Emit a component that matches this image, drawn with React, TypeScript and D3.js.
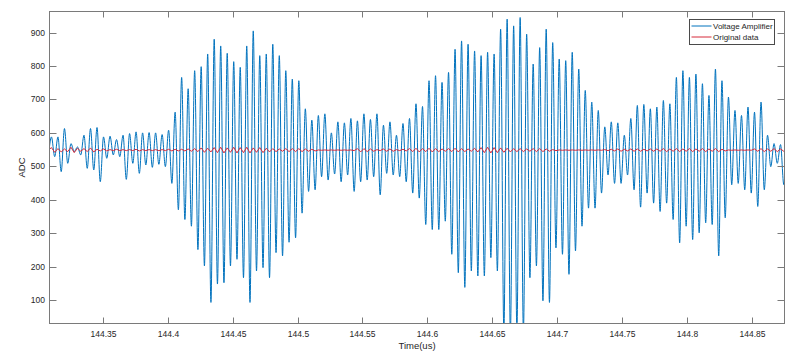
import React from "react";
import * as d3 from "d3";

// time axis (us) and ADC axis
const xTicks = [144.35, 144.4, 144.45, 144.5, 144.55, 144.6, 144.65, 144.7, 144.75, 144.8, 144.85];
const xTickLabels = ["144.35", "144.4", "144.45", "144.5", "144.55", "144.6", "144.65", "144.7", "144.75", "144.8", "144.85"];
const yTicks = [100, 200, 300, 400, 500, 600, 700, 800, 900];

// sampling of the extrema: peak k sits at firstPeakTime + 2k*halfPeriod, trough k right after it
const firstPeakTime = 144.3105;
const halfPeriod = 0.0025065;

// Voltage Amplifier (blue) - value before the first peak, then peaks and troughs
const blueLead = 520;
const bluePeaks = [
  588, 588, 613, 568, 558, 593, 613, 616, 588, 590, 580, 593, 598, 603, 600, 601, 600, 595, 608,
  662, 766, 732, 786, 798, 836, 880, 860, 838, 813, 796, 860, 905, 831, 836, 865, 831, 786,
  761, 756, 672, 638, 652, 657, 600, 633, 630, 643, 636, 657, 640, 657, 623, 633, 593, 628,
  643, 687, 679, 756, 771, 751, 781, 850, 875, 865, 845, 831, 841, 836, 910, 940, 920, 945, 895,
  806, 855, 910, 870, 821, 816, 841, 791, 727, 692, 667, 618, 633, 630, 593, 643, 682, 685, 672,
  677, 697, 687, 766, 786, 766, 776, 747, 712, 791, 756, 707, 667, 652, 677, 662, 692, 593,
  568, 565, 578,
];
const blueTroughs = [
  529, 484, 509, 544, 534, 494, 489, 454, 524, 534, 529, 461, 509, 479, 504, 497, 506, 499, 449,
  370, 341, 321, 251, 202, 93, 148, 152, 202, 222, 167, 93, 187, 197, 167, 242, 232, 273,
  286, 360, 425, 430, 469, 459, 477, 454, 474, 425, 454, 459, 469, 415, 479, 474, 469, 454,
  420, 405, 326, 311, 311, 336, 237, 182, 138, 187, 172, 172, 227, 187, 5, 0, 10, 5, 167,
  202, 98, 93, 256, 237, 177, 247, 321, 375, 375, 420, 474, 449, 449, 474, 430, 378, 420, 390,
  365, 390, 341, 271, 321, 281, 301, 331, 326, 232, 346, 445, 449, 430, 420, 380, 430, 499,
  509, 445,
];

// Original data (red)
const redLead = 548;
const redPeaks = [
  556, 553, 552, 557, 554, 553, 555, 551, 552, 550, 551, 550, 550, 551, 550, 550, 550, 550, 551,
  551, 551, 552, 553, 555, 554, 556, 557, 555, 557, 556, 557, 555, 556, 554, 553, 552, 553,
  553, 553, 552, 551, 549, 549, 549, 549, 549, 549, 553, 553, 552, 550, 552, 552, 550, 551,
  553, 554, 553, 554, 553, 552, 553, 554, 553, 552, 554, 556, 557, 556, 555, 554, 553, 553, 552,
  553, 553, 552, 550, 549, 549, 549, 549, 549, 549, 549, 550, 551, 552, 551, 552, 552, 551, 552,
  552, 553, 552, 553, 552, 553, 552, 553, 552, 553, 551, 549, 549, 549, 549, 552, 553, 552,
  553, 552, 551,
];
const redTroughs = [
  542, 543, 544, 541, 545, 544, 543, 546, 546, 547, 547, 547, 547, 546, 547, 547, 547, 547, 546,
  546, 546, 545, 544, 542, 543, 541, 540, 542, 540, 541, 540, 542, 541, 543, 544, 545, 544,
  544, 544, 545, 546, 548, 548, 548, 548, 548, 547, 543, 544, 545, 547, 545, 545, 547, 546,
  544, 543, 544, 543, 544, 545, 544, 543, 544, 545, 543, 541, 540, 541, 542, 543, 544, 544, 545,
  544, 544, 545, 547, 548, 548, 548, 548, 548, 548, 548, 547, 546, 545, 546, 545, 545, 546, 545,
  545, 544, 545, 544, 545, 544, 545, 544, 545, 544, 546, 548, 548, 548, 548, 545, 544, 545,
  544, 545,
];

type Pt = { t: number; v: number };

function buildSeries(lead: number, peaks: number[], troughs: number[]): Pt[] {
  const pts: Pt[] = [{ t: firstPeakTime - halfPeriod, v: lead }];
  peaks.forEach((p, k) => {
    pts.push({ t: firstPeakTime + 2 * k * halfPeriod, v: p });
    if (k < troughs.length) {
      pts.push({ t: firstPeakTime + (2 * k + 1) * halfPeriod, v: troughs[k] });
    }
  });
  return pts;
}

const W = 800;
const H = 360;
const left = 49.5;
const right = 784.5;
const top = 11.5;
const bottom = 323.5;

export default function App() {
  const x = d3.scaleLinear().domain([144.309, 144.875]).range([left, right]);
  const y = d3.scaleLinear().domain([30, 963]).range([bottom, top]);

  const blue = buildSeries(blueLead, bluePeaks, blueTroughs);
  const red = buildSeries(redLead, redPeaks, redTroughs);

  const blueLine = d3
    .line<Pt>()
    .x((d) => x(d.t))
    .y((d) => y(d.v))
    .curve(d3.curveMonotoneX);
  const redLine = d3
    .line<Pt>()
    .x((d) => x(d.t))
    .y((d) => y(d.v));

  const axisColor = "#7a7a7a";
  const textColor = "#262626";
  const font = "'Liberation Sans', Arial, Helvetica, sans-serif";

  return (
    <svg width={W} height={H} style={{ position: "absolute", left: 0, top: 0, background: "#fff" }}>
      <defs>
        <clipPath id="plot">
          <rect x={left} y={top} width={right - left} height={bottom - top} />
        </clipPath>
      </defs>
      <rect x={0} y={0} width={W} height={H} fill="#fff" />

      <g clipPath="url(#plot)">
        <path d={blueLine(blue) || ""} fill="none" stroke="#0072bd" strokeWidth={1} />
        <path d={redLine(red) || ""} fill="none" stroke="#d62b3a" strokeWidth={1} />
      </g>

      {/* box */}
      <rect x={left} y={top} width={right - left} height={bottom - top} fill="none" stroke={axisColor} strokeWidth={1} />

      {/* x ticks, top and bottom, inward */}
      {xTicks.map((t, i) => {
        const px = Math.round(x(t)) + 0.5;
        return (
          <g key={"x" + i}>
            <line x1={px} x2={px} y1={bottom} y2={bottom - 6} stroke={axisColor} />
            <line x1={px} x2={px} y1={top} y2={top + 6} stroke={axisColor} />
            <text x={px} y={336.5} textAnchor="middle" fontSize={8.5} fontFamily={font} fill={textColor}>
              {xTickLabels[i]}
            </text>
          </g>
        );
      })}

      {/* y ticks, left and right, inward */}
      {yTicks.map((t, i) => {
        const py = Math.round(y(t)) + 0.5;
        return (
          <g key={"y" + i}>
            <line x1={left} x2={left + 7} y1={py} y2={py} stroke={axisColor} />
            <line x1={right} x2={right - 7} y1={py} y2={py} stroke={axisColor} />
            <text x={45} y={py} dy="0.35em" textAnchor="end" fontSize={8.5} fontFamily={font} fill={textColor}>
              {t}
            </text>
          </g>
        );
      })}

      <text x={(left + right) / 2} y={349} textAnchor="middle" fontSize={9.5} fontFamily={font} fill={textColor}>
        Time(us)
      </text>
      <text
        transform={`translate(25, ${(top + bottom) / 2}) rotate(-90)`}
        textAnchor="middle"
        fontSize={9.5}
        fontFamily={font}
        fill={textColor}
      >
        ADC
      </text>

      {/* legend */}
      <g>
        <rect x={689.5} y={19.5} width={85} height={25} fill="#fff" stroke="#4a4a4a" strokeWidth={1} />
        <line x1={691.5} x2={711.5} y1={26} y2={26} stroke="#0072bd" strokeWidth={1} />
        <line x1={691.5} x2={711.5} y1={37} y2={37} stroke="#d62b3a" strokeWidth={1} />
        <text x={713} y={26} dy="0.35em" fontSize={8} fontFamily={font} fill={textColor}>
          Voltage Amplifier
        </text>
        <text x={713} y={37} dy="0.35em" fontSize={8} fontFamily={font} fill={textColor}>
          Original data
        </text>
      </g>
    </svg>
  );
}
